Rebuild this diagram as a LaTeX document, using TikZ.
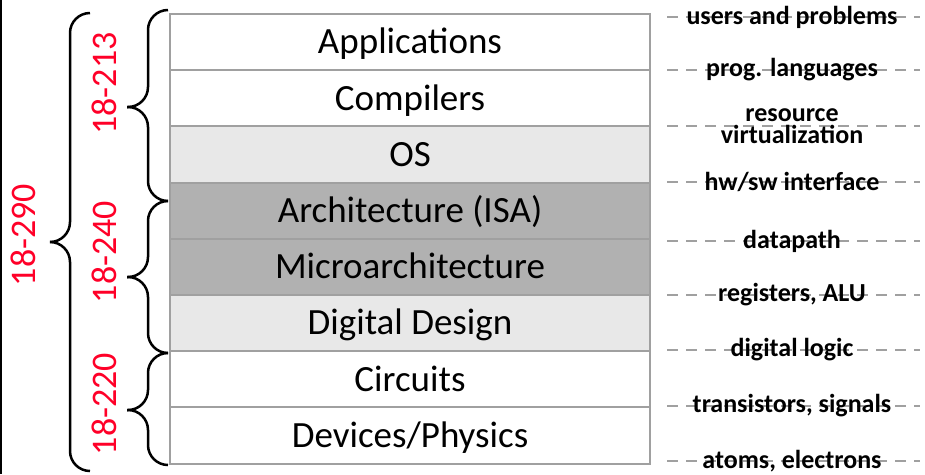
\documentclass[tikz,border=0pt]{standalone}
\usepackage{fontspec}
\setmainfont{Carlito}
\usetikzlibrary{positioning}
\definecolor{courseRed}{RGB}{255,0,40}
\definecolor{layerLight}{RGB}{232,232,232}
\definecolor{layerDark}{RGB}{177,177,177}
\definecolor{ruleGray}{RGB}{160,160,160}
\begin{document}
\begin{tikzpicture}[x=1pt,y=-1pt,
        layer/.style={draw=ruleGray,line width=2pt,minimum width=480pt,minimum height=56.2pt,
            inner sep=0pt,outer sep=0pt,font=\fontsize{37}{40}\selectfont,
            text height=23.7pt,text depth=0pt},
        light/.style={layer,fill=layerLight},
        dark/.style={layer,fill=layerDark},
        course/.style={rotate=90,text=courseRed,font=\fontsize{36}{40}\selectfont,
            text height=23pt,text depth=0pt,inner sep=0pt},
        curly/.style={line width=2.5pt,rounded corners=20pt},
        guide/.style={draw=ruleGray,line width=2pt,dash pattern=on 11pt off 8pt},
        tag/.style={font=\bfseries\fontsize{26}{22.5}\selectfont,align=center,inner sep=0pt}]
    \useasboundingbox (0,0) rectangle (925,474);
    \draw[line width=1.5pt] (0.75,0) -- (0.75,474);

    \node[layer] (b1) at (410,42.1) {Applications};
    \node[layer,below=0pt of b1] (b2) {Compilers};
    \node[light,below=0pt of b2] (b3) {OS};
    \node[dark,below=0pt of b3] (b4) {Architecture (ISA)};
    \node[dark,below=0pt of b4] (b5) {Microarchitecture};
    \node[light,below=0pt of b5] (b6) {Digital Design};
    \node[layer,below=0pt of b6] (b7) {Circuits};
    \node[layer,below=0pt of b7] (b8) {Devices/Physics};

    \draw[curly] (168,10) -- (148,10) -- (148,107) -- (127,107);
    \draw[curly] (168,201) -- (148,201) -- (148,107) -- (127,107);
    \draw[curly] (168,201) -- (148,201) -- (148,277) -- (127,277);
    \draw[curly] (168,353) -- (148,353) -- (148,277) -- (127,277);
    \draw[curly] (168,353) -- (148,353) -- (148,410) -- (127,410);
    \draw[curly] (168,465) -- (148,465) -- (148,410) -- (127,410);
    \draw[curly] (90,13) -- (70,13) -- (70,242) -- (50,242);
    \draw[curly] (90,471) -- (70,471) -- (70,242) -- (50,242);

    \node[course] (c213) at (105,83.5) {18-213};
    \node[course] (c240) at (105,252) {18-240};
    \node[course] (c220) at (105,404) {18-220};
    \node[course] (c290) at (24,235) {18-290};

    \foreach \y/\lbl [count=\k] in {17/users and problems, 70/prog. languages,
            126/{resource\\virtualization}, 182/{hw/sw interface}, 241/datapath,
            295/{registers, ALU}, 350/digital logic, 406/{transistors, signals},
            461/{atoms, electrons}}{
        \draw[guide] (667,\y) coordinate (g\k) -- (920,\y) coordinate (h\k);
        \node[tag] (t\k) at (792,\y) {\lbl};
    }
\end{tikzpicture}
\end{document}
